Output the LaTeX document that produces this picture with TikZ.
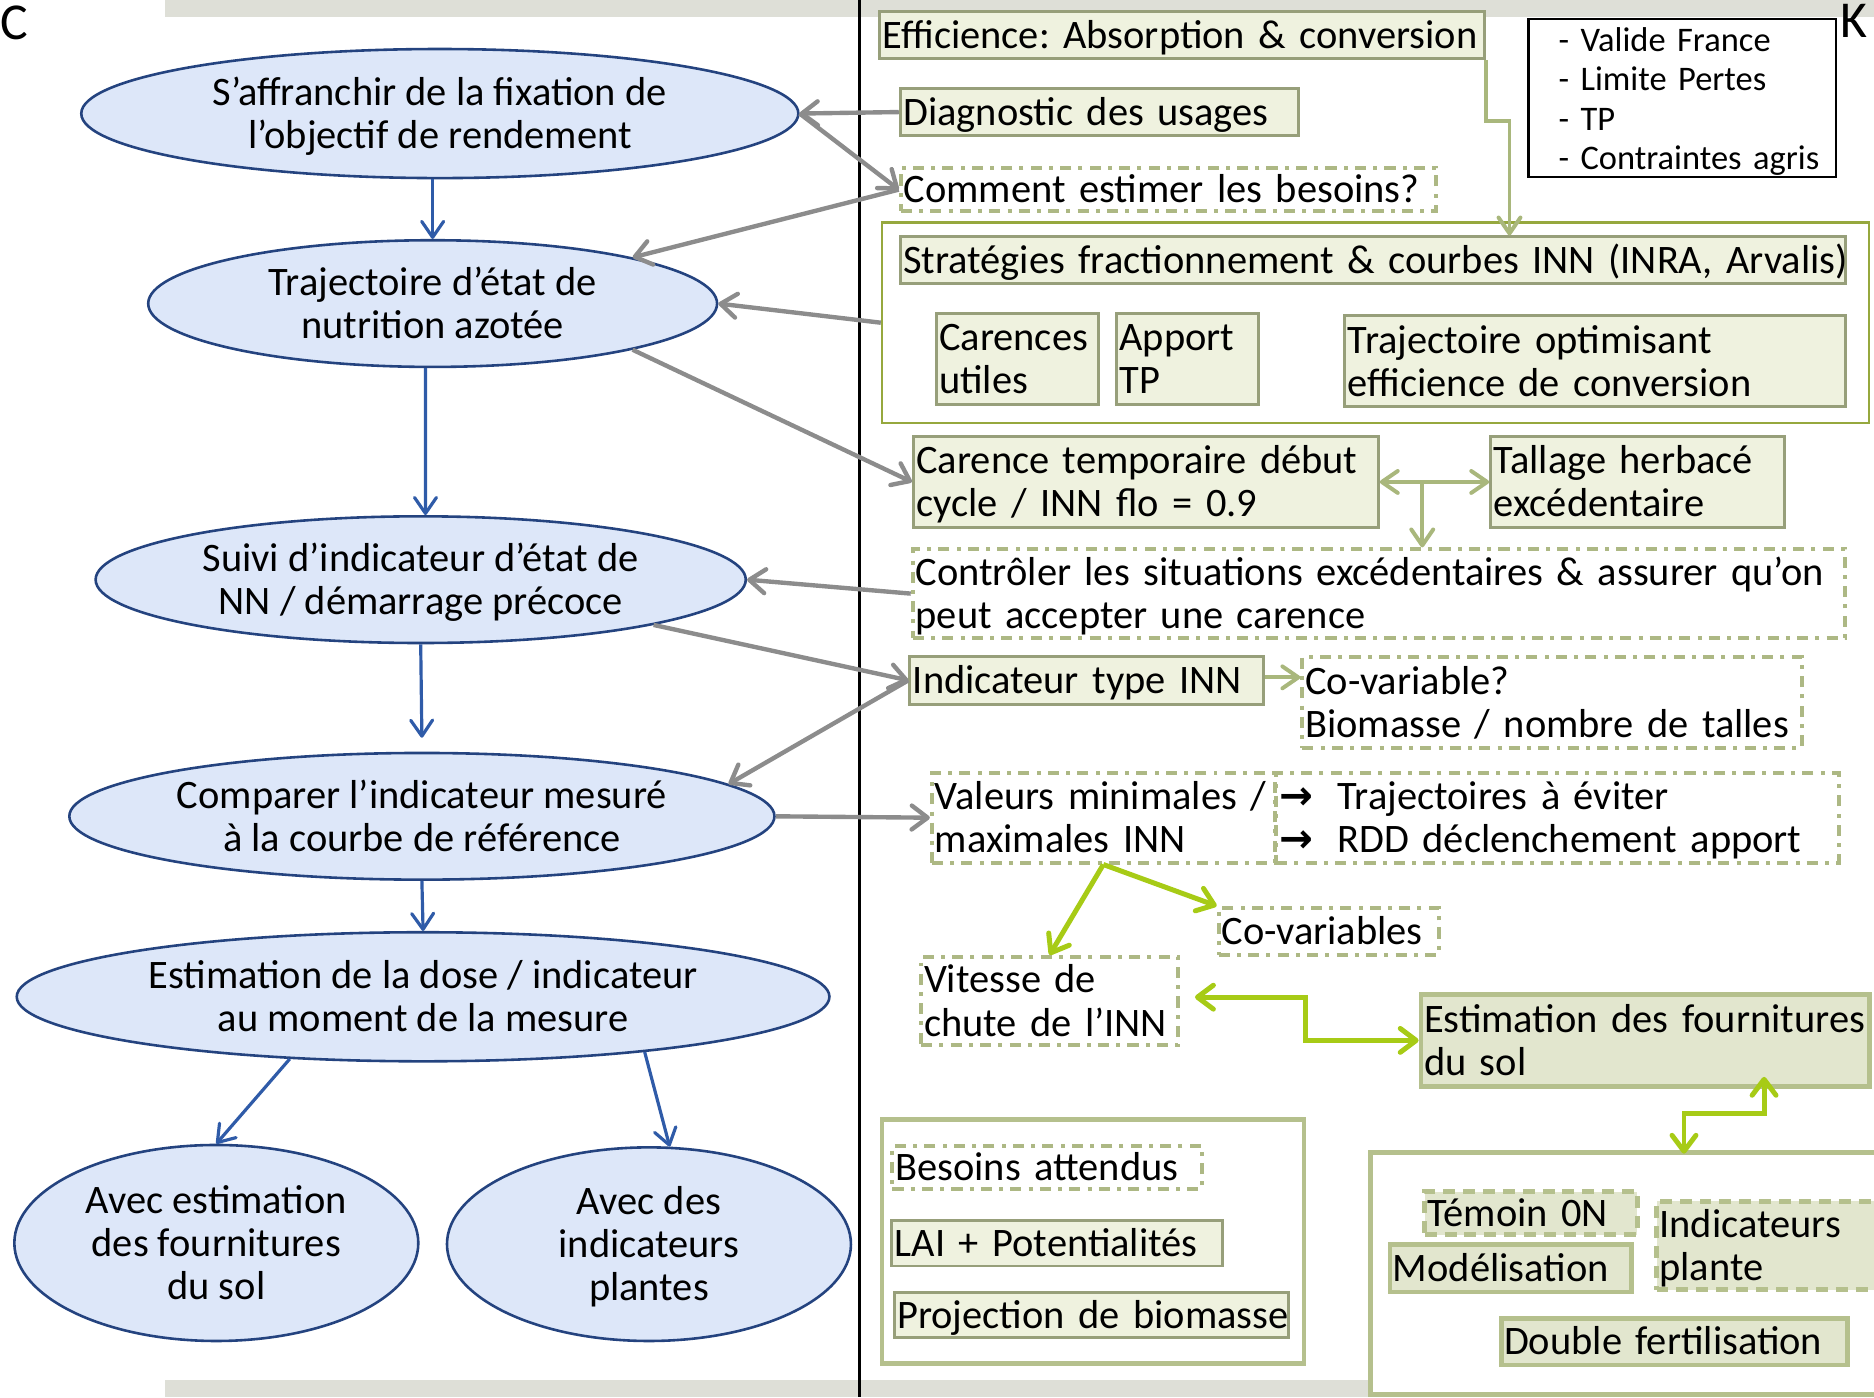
\documentclass[tikz,border=0pt]{standalone}
\usepackage{fontspec}
\setmainfont{Carlito}
\newfontfamily\djv{DejaVu Sans}
\usetikzlibrary{shapes.geometric,arrows.meta}
\definecolor{ellfill}{HTML}{DDE7F9}
\definecolor{elldraw}{HTML}{24437F}
\definecolor{boxfill}{HTML}{EFF2DF}
\definecolor{boxdraw}{HTML}{979F7A}
\definecolor{dashc}{HTML}{ADB884}
\definecolor{ofill}{HTML}{E2E6CE}
\definecolor{odraw}{HTML}{B5C08D}
\definecolor{framed}{HTML}{96A83E}
\definecolor{grayarr}{HTML}{8C8C8C}
\definecolor{bluearr}{HTML}{2F5BA8}
\definecolor{olivearr}{HTML}{A9B77C}
\definecolor{limearr}{HTML}{A7CB16}
\definecolor{band}{HTML}{DEDFD7}
\newcommand\sfix[2]{\setbox\strutbox\hbox{\vrule height #1 depth #2 width 0pt}}
\newcommand\putbox[7]{%
  \pgfmathsetmacro\pbw{(#5-#3)*0.6}%
  \pgfmathsetmacro\pbh{(#6-#4)*0.6}%
  \pgfmathsetmacro\pbt{(#5-#3)*0.6-3}%
  \node[#1, anchor=north west, inner xsep=1.5pt, inner ysep=0pt,
        minimum width=\pbw pt, minimum height=\pbh pt, text width=\pbt pt,
        align=left] (#2) at (#3,#4) {\begin{tabular}{@{}l@{}}#7\end{tabular}};}
\newcommand\ctext[1]{\begin{tabular}{@{}c@{}}#1\end{tabular}}
\newcommand\arr{\makebox[29.4pt][l]{\djv\bfseries →}}
\tikzset{
  ell/.style={ellipse, draw=elldraw, line width=1.3pt, fill=ellfill, inner sep=0pt, align=center},
  fbox/.style={draw=boxdraw, line width=1.5pt, fill=boxfill},
  dbox/.style={draw=dashc, line width=2pt, dash pattern=on 5.6pt off 3.6pt on 2pt off 3.6pt},
  obox/.style={draw=odraw, line width=2.4pt, fill=ofill},
  dfbox/.style={draw=odraw, line width=2.4pt, fill=ofill, dash pattern=on 6pt off 4pt},
  frame/.style={draw=odraw, line width=2.4pt, fill=white},
  frameD/.style={draw=framed, line width=1.2pt, fill=white},
  garr/.style={draw=grayarr, line width=2.2pt, -{Straight Barb[length=8pt,width=12pt,round]}},
  barr/.style={draw=bluearr, line width=1.6pt, -{Straight Barb[length=8pt,width=11pt,round]}},
  oarr/.style={draw=olivearr, line width=2pt, -{Straight Barb[length=8pt,width=11pt,round]}},
  oarrr/.style={draw=olivearr, line width=2pt, {Straight Barb[length=8pt,width=11pt,round]}-{Straight Barb[length=8pt,width=11pt,round]}},
  larr/.style={draw=limearr, line width=2.5pt, -{Straight Barb[length=8pt,width=12pt,round]}},
  larrr/.style={draw=limearr, line width=2.5pt, {Straight Barb[length=8pt,width=12pt,round]}-{Straight Barb[length=8pt,width=12pt,round]}},
}
\begin{document}
\begin{tikzpicture}[x=0.6pt,y=-0.6pt,font=\fontsize{20.3}{21.6}\selectfont\frenchspacing\sfix{17.5pt}{4.1pt}]
\useasboundingbox (0,0) rectangle (1568,1169);
% background bands
\fill[band] (138,0) rectangle (1568,14);
\fill[band] (138,1155) rectangle (1568,1169);
\draw[line width=1.6pt] (719,0) -- (719,1169);
\node[font=\fontsize{26}{28}\selectfont, anchor=north west, inner sep=0pt] (lc) at (0,5) {C};
\node[font=\fontsize{26}{28}\selectfont, anchor=north west, inner sep=0pt] (lk) at (1540,3) {K};

% ellipses
\node[ell, minimum width=360pt, minimum height=64.8pt] (e1) at (368,95) {\ctext{S’affranchir de la fixation de\\l’objectif de rendement}};
\node[ell, minimum width=285.6pt, minimum height=63.6pt] (e2) at (362,254) {\ctext{Trajectoire d’état de\\nutrition azotée}};
\node[ell, minimum width=326.4pt, minimum height=63.6pt] (e3) at (352,485) {\ctext{Suivi d’indicateur d’état de\\NN / démarrage précoce}};
\node[ell, minimum width=354pt, minimum height=63.6pt] (e4) at (353,683) {\ctext{Comparer l’indicateur mesuré\\à la courbe de référence}};
\node[ell, minimum width=408pt, minimum height=64.8pt] (e5) at (354,834) {\ctext{Estimation de la dose / indicateur\\au moment de la mesure}};
\node[ell, minimum width=202.8pt, minimum height=98.4pt] (e6) at (181,1040) {\ctext{Avec estimation\\des fournitures\\du sol}};
\node[ell, minimum width=202.8pt, minimum height=97.2pt] (e7) at (543,1041) {\ctext{Avec des\\indicateurs\\plantes}};

% right side
\putbox{fbox}{A}{735}{8}{1241}{48}{Efficience: Absorption \& conversion}
\putbox{fbox}{B}{752}{73}{1085}{112}{Diagnostic des usages}
\putbox{dbox}{Cb}{752}{139}{1200}{175}{Comment estimer les besoins?}
\node[draw=black, line width=1.2pt, anchor=north west, minimum width=154.2pt, minimum height=78pt,
      inner xsep=15pt, inner ysep=0pt, text width=124.2pt, align=left,
      font=\fontsize{17.3}{19.8}\selectfont\sfix{16.2pt}{3.6pt}] (leg) at (1278,15)
      {\begin{tabular}{@{}l@{}}- Valide France\\- Limite Pertes\\- TP\\- Contraintes agris\end{tabular}};
\putbox{frameD}{D}{737}{185}{1563}{353}{}
\putbox{fbox}{D1}{752}{197}{1543}{236}{Stratégies fractionnement \& courbes INN (INRA, Arvalis)}
\putbox{fbox}{D2}{782}{261}{918}{337}{Carences\\utiles}
\putbox{fbox}{D3}{933}{261}{1052}{337}{Apport\\TP}
\putbox{fbox}{D4}{1124}{263}{1543}{339}{Trajectoire optimisant\\efficience de conversion}
\putbox{fbox}{F}{763}{364}{1152}{440}{Carence temporaire début\\cycle / INN flo = 0.9}
\putbox{fbox}{G}{1246}{364}{1492}{440}{Tallage herbacé\\excédentaire}
\putbox{dbox}{H}{762}{458}{1542}{532}{Contrôler les situations excédentaires \& assurer qu’on\\peut accepter une carence}
\putbox{fbox}{I}{760}{548}{1056}{588}{Indicateur type INN}
\putbox{dbox}{J}{1088}{548}{1506}{624}{Co-variable?\\Biomasse / nombre de talles}
\putbox{dbox}{Kb}{778}{645}{1065}{720}{Valeurs minimales /\\maximales INN}
\putbox{dbox}{L}{1066}{645}{1537}{720}{\arr Trajectoires à éviter\\\arr RDD déclenchement apport}
\putbox{dbox}{M}{1018}{758}{1202}{797}{Co-variables}
\putbox{dbox}{N}{769}{799}{984}{873}{Vitesse de\\chute de l’INN}
\putbox{obox}{O}{1187}{830}{1562}{907}{Estimation des fournitures\\du sol}
\putbox{frame}{P}{736}{935}{1089}{1139}{}
\putbox{dbox}{P1}{745}{957}{1004}{993}{Besoins attendus}
\putbox{fbox}{P2}{745}{1020}{1022}{1058}{LAI + Potentialités}
\putbox{fbox}{P3}{747}{1080}{1077}{1118}{Projection de biomasse}
\putbox{frame}{Q}{1145}{962}{1572}{1165}{}
\putbox{dfbox}{Q1}{1190}{995}{1368}{1030}{Témoin 0N}
\putbox{obox}{Q2}{1161}{1039}{1363}{1079}{Modélisation}
\putbox{dfbox}{Q3}{1384}{1003}{1570}{1077}{Indicateurs\\plante}
\putbox{obox}{Q4}{1254}{1101}{1544}{1140}{Double fertilisation}

% gray arrows
\draw[garr] (B.west) -- (e1.east);
\draw[garr] (e1.east) -- (Cb.west);
\draw[garr] (Cb.west) -- (e2.13);
\draw[garr] (D.west) -- (e2.east);
\draw[garr] (e2.-13) -- (F.west);
\draw[garr] (H.west) -- (e3.east);
\draw[garr] (e3.-11) -- (I.west);
\draw[garr] (I.west) -- (e4.6);
\draw[garr] (e4.east) -- (Kb.west);

% blue arrows
\draw[barr] (e2.north |- e1.south) -- (e2.north);
\draw[barr] ([xshift=-3.6pt]e2.south) -- ([xshift=2.4pt]e3.north);
\draw[barr] (e3.south) -- ([yshift=7pt]e4.north);
\draw[barr] (e4.south) -- (e5.north);
\draw[barr] (e5.-155.9) -- (e6.north);
\draw[barr] (e5.-14.6) -- (e7.78);

% olive arrows
\coordinate (a2) at (1263,101);
\draw[oarr] (A.south east) -- (A.south east |- a2) -- (a2) -- (a2 |- D1.north);
\draw[oarrr] (F.east) -- (G.west);
\coordinate (fg) at (1190,402);
\draw[oarr] (fg) -- (fg |- H.north);
\draw[oarr] ([yshift=1.5pt]I.east) -- ([yshift=1.5pt]I.east -| J.west);

% lime arrows
\draw[larr] (Kb.south) -- (N.north);
\draw[larr] (Kb.south) -- (M.north west);
\coordinate (nb) at (1092,850);
\draw[larrr] ([xshift=7.5pt,yshift=2pt]N.east) -| (nb) |- (O.west);
\draw[larrr] ([xshift=59.7pt,yshift=6pt]O.south) -- ++(0,31) -| ([xshift=29.1pt,yshift=-2pt]Q.north);
\end{tikzpicture}
\end{document}
